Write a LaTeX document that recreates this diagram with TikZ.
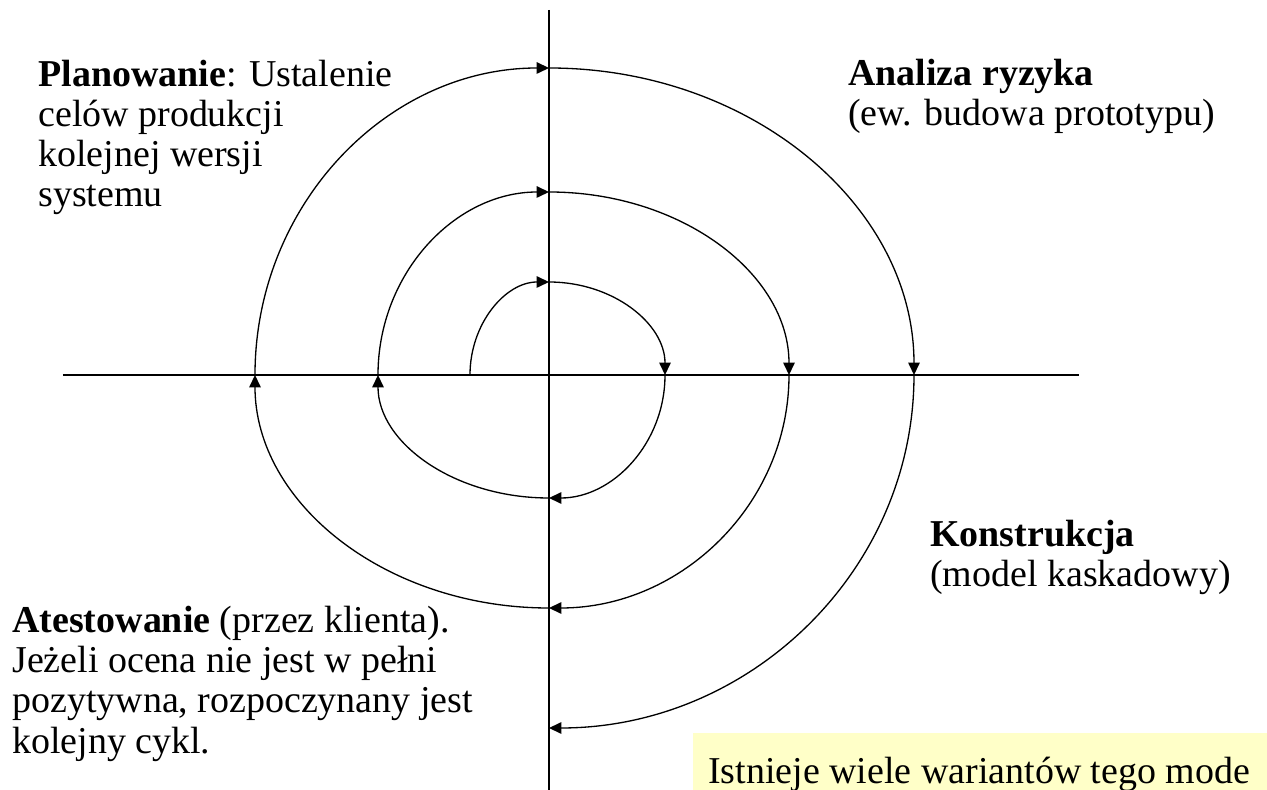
\documentclass[tikz,border=0pt]{standalone}
\usepackage{fontspec}
\setmainfont{Liberation Serif}
\usetikzlibrary{arrows.meta}
\definecolor{noteyellow}{RGB}{255,255,200}
\tikzset{
  axisline/.style={line width=1.1pt, black},
  spiral/.style={line width=0.75pt, black, -{Triangle[length=7pt,width=6.5pt]}},
  label/.style={anchor=base west, inner sep=0pt, align=left, font=\fontsize{21.6}{22.8}\selectfont},
}
\begin{document}
\begin{tikzpicture}[x=0.02cm,y=0.02cm]
\useasboundingbox (-549,-415) rectangle (718,375);
% note box
\fill[noteyellow] (144,-358) rectangle (718,-415);
\node[label] (note) at (159,-408) {Istnieje wiele wariantów tego mode};
% axes
\coordinate (vtop) at (0,365);
\coordinate (vbot) at (0,-415);
\coordinate (hleft) at (-486,0);
\coordinate (hright) at (530,0);
\draw[axisline] (vtop) -- (vbot);
\draw[axisline] (hleft) -- (hright);
% spiral points
\coordinate (s0) at (-79,0);
\coordinate (s1) at (0,93);
\coordinate (s2) at (116,0);
\coordinate (s3) at (0,-123);
\coordinate (s4) at (-171,0);
\coordinate (s5) at (0,183);
\coordinate (s6) at (240,0);
\coordinate (s7) at (0,-233);
\coordinate (s8) at (-294,0);
\coordinate (s9) at (0,307);
\coordinate (s10) at (365,0);
\draw[spiral] (s0) arc[start angle=180,end angle=90,x radius=79,y radius=93];
\draw[spiral] (s1) arc[start angle=90,end angle=0,x radius=116,y radius=93];
\draw[spiral] (s2) arc[start angle=0,end angle=-90,x radius=116,y radius=123];
\draw[spiral] (s3) arc[start angle=-90,end angle=-180,x radius=171,y radius=123];
\draw[spiral] (s4) arc[start angle=180,end angle=90,x radius=171,y radius=183];
\draw[spiral] (s5) arc[start angle=90,end angle=0,x radius=240,y radius=183];
\draw[spiral] (s6) arc[start angle=0,end angle=-90,x radius=240,y radius=233];
\draw[spiral] (s7) arc[start angle=-90,end angle=-180,x radius=294,y radius=233];
\draw[spiral] (s8) arc[start angle=180,end angle=90,x radius=294,y radius=307];
\draw[spiral] (s9) arc[start angle=90,end angle=0,x radius=365,y radius=307];
\draw[spiral] (s10) arc[start angle=0,end angle=-90,x radius=365,y radius=353];
% labels (base anchor = last line's baseline)
\node[label] (plan) at (-511,168) {\textbf{Planowanie}: Ustalenie\\celów produkcji\\kolejnej wersji\\systemu};
\node[label] (risk) at (299,249) {\textbf{Analiza ryzyka}\\(ew. budowa prototypu)};
\node[label] (constr) at (381,-212) {\textbf{Konstrukcja}\\(model kaskadowy)};
\node[label] (test) at (-537,-378) {\textbf{Atestowanie} (przez klienta).\\Jeżeli ocena nie jest w pełni\\pozytywna, rozpoczynany jest\\kolejny cykl.};
\end{tikzpicture}
\end{document}
